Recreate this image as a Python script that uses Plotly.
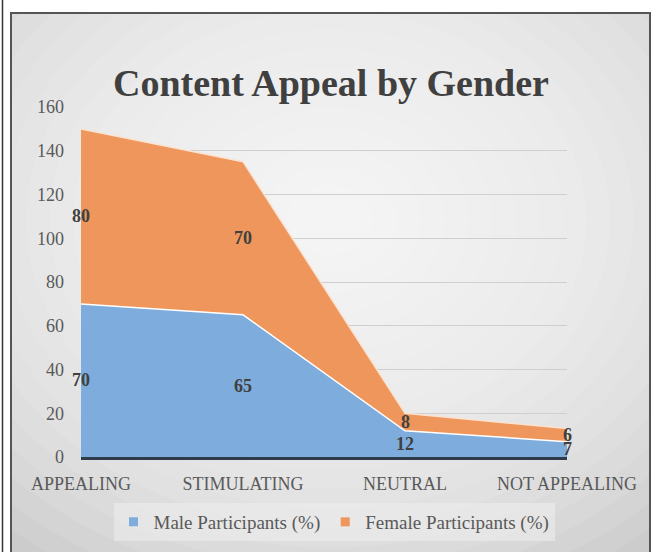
import plotly.graph_objects as go

categories = ["APPEALING", "STIMULATING", "NEUTRAL", "NOT APPEALING"]
male = [70, 65, 12, 7]
female = [80, 70, 8, 6]
y_ticks = [0, 20, 40, 60, 80, 100, 120, 140, 160]

W, H = 653, 552
L, R, T, B = 81, 567, 107, 457  # plot area in pixels
MALE_C = "#7EACDC"
FEMALE_C = "#EE965C"


def px_x(px):
    return (px - L) / (R - L)


def px_y(py):
    return (B - py) / (B - T)


xs = list(range(len(categories)))
fig = go.Figure()
fig.add_trace(go.Scatter(
    x=xs, y=male, name="Male Participants (%)", stackgroup="one",
    mode="lines", line=dict(color="white", width=1.5),
    fillcolor=MALE_C, showlegend=False,
))
fig.add_trace(go.Scatter(
    x=xs, y=female, name="Female Participants (%)", stackgroup="one",
    mode="lines", line=dict(color="#FBE3D2", width=1.5),
    fillcolor=FEMALE_C, showlegend=False,
))
# legend entries with square swatches
for nm, c in [("Male Participants (%)", MALE_C), ("Female Participants (%)", FEMALE_C)]:
    fig.add_trace(go.Scatter(x=[None], y=[None], name=nm, mode="markers",
                             marker=dict(symbol="square", size=9, color=c)))

# data labels (centered in each band)
ann = []
lab_font = dict(family="Liberation Serif", size=18, color="#404040")
for i, (m, f) in enumerate(zip(male, female)):
    ann.append(dict(x=i, y=m / 2, text="<b>%d</b>" % m, showarrow=False,
                    font=lab_font, xref="x", yref="y"))
    ann.append(dict(x=i, y=m + f / 2, text="<b>%d</b>" % f, showarrow=False,
                    font=lab_font, xref="x", yref="y"))
ann.append(dict(x=px_x(331), y=px_y(60), xref="paper", yref="paper",
                text="<b>Content Appeal by Gender</b>", showarrow=False,
                font=dict(family="Liberation Serif", size=38, color="#404040")))

shapes = []
# chart frame base
shapes.append(dict(type="rect", xref="paper", yref="paper",
                   x0=px_x(11), x1=px_x(650), y0=px_y(560), y1=px_y(13),
                   fillcolor="#c2c2c2", line=dict(color="#555555", width=2), layer="below"))
# radial gradient approximation
cx, cy = 330, 220
N = 22
for k in range(N):
    t = 1 - k / N
    rx = 520 * t + 20
    ry = 430 * t + 15
    shapes.append(dict(type="circle", xref="paper", yref="paper",
                       x0=px_x(cx - rx), x1=px_x(cx + rx),
                       y0=px_y(cy + ry), y1=px_y(cy - ry),
                       fillcolor="rgba(255,255,255,0.095)", line=dict(width=0),
                       layer="below"))
# white mask outside frame
shapes.append(dict(type="rect", xref="paper", yref="paper",
                   x0=px_x(-5), x1=px_x(10), y0=px_y(560), y1=px_y(-5),
                   fillcolor="white", line=dict(width=0), layer="below"))
shapes.append(dict(type="rect", xref="paper", yref="paper",
                   x0=px_x(-5), x1=px_x(660), y0=px_y(12), y1=px_y(-5),
                   fillcolor="white", line=dict(width=0), layer="below"))
shapes.append(dict(type="rect", xref="paper", yref="paper",
                   x0=px_x(651), x1=px_x(660), y0=px_y(560), y1=px_y(-5),
                   fillcolor="white", line=dict(width=0), layer="below"))
# re-draw frame edges
shapes.append(dict(type="rect", xref="paper", yref="paper",
                   x0=px_x(11), x1=px_x(650), y0=px_y(560), y1=px_y(13),
                   fillcolor="rgba(0,0,0,0)", line=dict(color="#555555", width=2), layer="below"))
shapes.append(dict(type="line", xref="paper", yref="paper",
                   x0=px_x(2.5), x1=px_x(2.5), y0=px_y(560), y1=px_y(0),
                   line=dict(color="#333333", width=1.5), layer="below"))

fig.update_layout(
    width=W, height=H,
    margin=dict(l=L, r=W - R, t=T, b=H - B, autoexpand=False),
    paper_bgcolor="white",
    plot_bgcolor="rgba(0,0,0,0)",
    showlegend=True,
    legend=dict(orientation="h", x=px_x(334), y=px_y(522), xanchor="center", yanchor="middle",
                bgcolor="rgba(238,238,238,0.55)",
                font=dict(family="Liberation Serif", size=19, color="#595959"),
                itemwidth=30, traceorder="normal"),
    xaxis=dict(range=[0, 3], tickvals=xs, ticktext=categories, showgrid=False,
               zeroline=False, showline=True, linecolor="#2E3B4A", linewidth=3,
               ticks="", automargin=False, ticklabelstandoff=8,
               tickfont=dict(family="Liberation Serif", size=18, color="#595959"),
               fixedrange=True),
    yaxis=dict(range=[0, 160], tickvals=y_ticks, showgrid=True, gridcolor="#cfcfcf",
               gridwidth=1, zeroline=False, showline=False, ticks="",
               automargin=False, ticklabelstandoff=16,
               tickfont=dict(family="Liberation Serif", size=18, color="#595959")),
    annotations=ann,
    shapes=shapes,
)

fig.write_html("out.html", config={"displayModeBar": False},
               post_script="document.body.style.margin='0';document.body.style.overflow='hidden';")
